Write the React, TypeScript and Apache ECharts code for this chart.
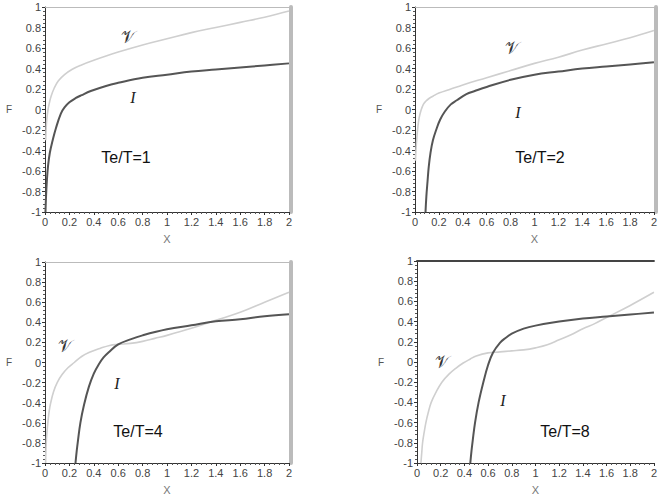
import React, { useEffect, useRef } from "react";
import * as echarts from "echarts";

type Pt = [number, number];

const panelTitles = ["Te/T=1", "Te/T=2", "Te/T=4", "Te/T=8"];
const curveNames = ["I", "𝒱"];

const I1: Pt[] = [[0.004,-1],[0.008,-0.86],[0.015,-0.7],[0.025,-0.55],[0.04,-0.42],[0.063,-0.3],[0.09,-0.18],[0.13,-0.04],[0.16,0.02],[0.2,0.07],[0.25,0.11],[0.3,0.14],[0.375,0.18],[0.5,0.23],[0.6,0.26],[0.8,0.31],[1.0,0.34],[1.2,0.37],[1.4,0.39],[1.6,0.41],[1.8,0.43],[2.0,0.45]];
const V1: Pt[] = [[0.006,-0.3],[0.011,-0.15],[0.016,-0.08],[0.025,0],[0.035,0.06],[0.05,0.13],[0.076,0.21],[0.11,0.28],[0.16,0.34],[0.22,0.39],[0.29,0.43],[0.4,0.48],[0.6,0.56],[0.8,0.63],[1.0,0.69],[1.2,0.75],[1.4,0.8],[1.6,0.85],[1.8,0.9],[2.0,0.96]];

const I2: Pt[] = [[0.088,-1],[0.095,-0.85],[0.105,-0.7],[0.115,-0.56],[0.13,-0.42],[0.15,-0.3],[0.18,-0.19],[0.21,-0.1],[0.25,-0.02],[0.3,0.05],[0.35,0.09],[0.43,0.15],[0.5,0.18],[0.6,0.22],[0.8,0.29],[1.0,0.34],[1.2,0.37],[1.4,0.4],[1.6,0.42],[1.8,0.44],[2.0,0.46]];
const V2: Pt[] = [[0.004,-0.5],[0.008,-0.4],[0.015,-0.28],[0.025,-0.16],[0.035,-0.08],[0.05,-0.01],[0.07,0.05],[0.09,0.08],[0.12,0.11],[0.15,0.13],[0.2,0.16],[0.3,0.2],[0.4,0.24],[0.6,0.31],[0.8,0.38],[1.0,0.45],[1.2,0.51],[1.4,0.58],[1.6,0.64],[1.8,0.7],[2.0,0.77]];

const I4: Pt[] = [[0.25,-1],[0.26,-0.88],[0.27,-0.78],[0.29,-0.6],[0.32,-0.42],[0.36,-0.24],[0.4,-0.11],[0.44,-0.02],[0.48,0.05],[0.53,0.11],[0.6,0.18],[0.7,0.23],[0.8,0.27],[1.0,0.33],[1.2,0.37],[1.4,0.41],[1.6,0.43],[1.8,0.46],[2.0,0.48]];
const V4: Pt[] = [[0.005,-1],[0.01,-0.8],[0.017,-0.68],[0.025,-0.58],[0.035,-0.48],[0.047,-0.4],[0.07,-0.29],[0.1,-0.2],[0.14,-0.12],[0.19,-0.05],[0.24,0],[0.3,0.06],[0.36,0.1],[0.45,0.14],[0.53,0.17],[0.6,0.18],[0.7,0.19],[0.8,0.21],[0.9,0.24],[1.0,0.27],[1.2,0.34],[1.4,0.42],[1.6,0.5],[1.8,0.6],[2.0,0.7]];

const I8: Pt[] = [[0.45,-1],[0.46,-0.88],[0.47,-0.78],[0.49,-0.6],[0.52,-0.4],[0.56,-0.2],[0.6,-0.03],[0.64,0.09],[0.7,0.19],[0.75,0.24],[0.8,0.28],[0.9,0.33],[1.0,0.36],[1.2,0.4],[1.4,0.43],[1.6,0.45],[1.8,0.47],[2.0,0.49]];
const V8: Pt[] = [[0.033,-1],[0.04,-0.9],[0.047,-0.8],[0.06,-0.7],[0.075,-0.6],[0.095,-0.5],[0.12,-0.4],[0.16,-0.3],[0.21,-0.2],[0.27,-0.12],[0.33,-0.06],[0.39,-0.01],[0.45,0.03],[0.5,0.06],[0.6,0.09],[0.7,0.1],[0.8,0.11],[0.9,0.12],[1.0,0.14],[1.1,0.17],[1.2,0.22],[1.3,0.27],[1.4,0.33],[1.5,0.38],[1.6,0.44],[1.8,0.56],[2.0,0.69]];

const iSeries = [I1, I2, I4, I8];
const vSeries = [V1, V2, V4, V8];

const grids = [
  { left: 45, top: 7, width: 244, height: 205 },
  { left: 415, top: 7, width: 241, height: 205 },
  { left: 45, top: 262, width: 244, height: 206 },
  { left: 417, top: 261, width: 244, height: 207 },
];

const labelPos = [
  { v: [128, 37], i: [133, 97], t: [126, 157] },
  { v: [512, 48], i: [518, 112], t: [540, 157] },
  { v: [65, 346], i: [117, 383], t: [138, 431] },
  { v: [442, 362], i: [503, 400], t: [565, 431] },
];

const fmt = (v: number) => String(Math.round(v * 10) / 10);

export default function App() {
  const ref = useRef<HTMLDivElement>(null);
  useEffect(() => {
    if (!ref.current) return;
    const chart = echarts.init(ref.current, undefined, { renderer: "svg" });
    const xAxis: any[] = [];
    const yAxis: any[] = [];
    const series: any[] = [];
    const graphic: any[] = [];
    grids.forEach((g, k) => {
      xAxis.push({
        type: "value", gridIndex: k, min: 0, max: 2, interval: 0.2, position: "bottom",
        axisLine: { show: true, onZero: false, lineStyle: { color: "#333", width: 1 } },
        axisTick: { show: true, length: 3, lineStyle: { color: "#333" } },
        minorTick: { show: true, splitNumber: 5, length: 2, lineStyle: { color: "#555" } },
        splitLine: { show: false },
        axisLabel: { fontSize: 11, color: "#444", margin: 4, fontFamily: "Liberation Sans, Arial", formatter: fmt },
        name: "X", nameLocation: "middle", nameGap: 21,
        nameTextStyle: { fontSize: 11, color: "#777", fontFamily: "Liberation Sans, Arial" },
      });
      xAxis.push({
        type: "value", gridIndex: k, min: 0, max: 2, position: "top",
        axisLine: { show: true, onZero: false, lineStyle: { color: k === 3 ? "#444" : "#bbb", width: k === 3 ? 2 : 1 } },
        axisTick: { show: false }, axisLabel: { show: false }, splitLine: { show: false },
      });
      yAxis.push({
        type: "value", gridIndex: k, min: -1, max: 1, interval: 0.2, position: "left",
        axisLine: { show: true, onZero: false, lineStyle: { color: "#333", width: 1 } },
        axisTick: { show: true, length: 3, lineStyle: { color: "#333" } },
        minorTick: { show: true, splitNumber: 5, length: 2, lineStyle: { color: "#555" } },
        splitLine: { show: false },
        axisLabel: { fontSize: 11, color: "#444", margin: 4, fontFamily: "Liberation Sans, Arial", formatter: fmt },
        name: "F", nameLocation: "middle", nameGap: 33, nameRotate: 0,
        nameTextStyle: { fontSize: 10, color: "#555", fontFamily: "Liberation Sans, Arial" },
      });
      yAxis.push({
        type: "value", gridIndex: k, min: -1, max: 1, position: "right", offset: 2,
        axisLine: { show: k !== 3, onZero: false, lineStyle: { color: "#bbb", width: 4 } },
        axisTick: { show: false }, axisLabel: { show: false }, splitLine: { show: false },
      });
      series.push({
        type: "line", name: curveNames[1], xAxisIndex: 2 * k, yAxisIndex: 2 * k,
        data: vSeries[k], showSymbol: false, smooth: 0.4, clip: true,
        lineStyle: { color: "#cfcfcf", width: 1.6 },
      });
      series.push({
        type: "line", name: curveNames[0], xAxisIndex: 2 * k, yAxisIndex: 2 * k,
        data: iSeries[k], showSymbol: false, smooth: 0.4, clip: true,
        lineStyle: { color: "#555", width: 2 },
      });
      const p = labelPos[k];
      graphic.push({
        type: "text", x: p.v[0], y: p.v[1],
        style: { text: curveNames[1], fontSize: 17, fontFamily: "DejaVu Serif, DejaVu Sans, serif", fill: "#333", align: "center", verticalAlign: "middle" },
      });
      graphic.push({
        type: "text", x: p.i[0], y: p.i[1],
        style: { text: curveNames[0], fontSize: 16, fontStyle: "italic", fontFamily: "Liberation Serif, Times New Roman, serif", fill: "#222", align: "center", verticalAlign: "middle" },
      });
      graphic.push({
        type: "text", x: p.t[0], y: p.t[1],
        style: { text: panelTitles[k], fontSize: 16, fontFamily: "Liberation Sans, Arial", fill: "#111", align: "center", verticalAlign: "middle" },
      });
    });
    chart.setOption({
      animation: false,
      backgroundColor: "#fff",
      grid: grids.map((g) => ({ ...g, containLabel: false })),
      xAxis, yAxis, series, graphic,
    });
    return () => chart.dispose();
  }, []);
  return <div ref={ref} style={{ position: "fixed", left: 0, top: 0, width: 660, height: 496 }} />;
}
